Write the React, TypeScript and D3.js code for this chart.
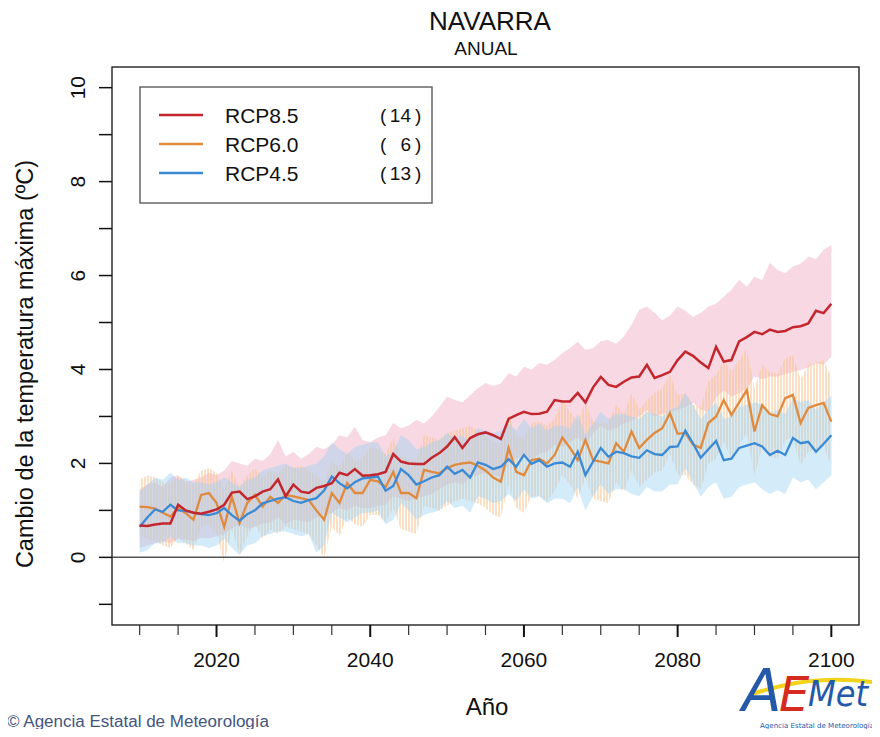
import * as d3 from "d3";
import React from "react";

// años 2010..2100
const years = d3.range(2010, 2101);

// RCP8.5: media y banda
const rcp85 = [
  0.68, 0.67, 0.70, 0.72, 0.72, 1.12, 1.00, 0.95, 0.93, 0.97,
  1.02, 1.12, 1.38, 1.40, 1.24, 1.30, 1.40, 1.45, 1.66, 1.30,
  1.55, 1.40, 1.37, 1.48, 1.52, 1.58, 1.80, 1.75, 1.88, 1.74,
  1.75, 1.77, 1.82, 2.20, 2.04, 2.00, 1.99, 1.99, 2.12, 2.22,
  2.36, 2.56, 2.33, 2.54, 2.62, 2.66, 2.60, 2.52, 2.95, 3.03,
  3.10, 3.05, 3.06, 3.10, 3.35, 3.32, 3.32, 3.50, 3.30, 3.62,
  3.84, 3.67, 3.63, 3.74, 3.83, 3.85, 4.10, 3.82, 3.88, 3.95,
  4.20, 4.38, 4.29, 4.15, 4.03, 4.48, 4.17, 4.20, 4.60, 4.69,
  4.80, 4.75, 4.85, 4.80, 4.82, 4.90, 4.92, 4.98, 5.25, 5.20, 5.40,
];
const rcp85Hi = [
  1.45, 1.55, 1.60, 1.50, 1.70, 1.75, 1.60, 1.65, 1.70, 1.80,
  1.75, 1.85, 2.05, 2.00, 1.95, 2.10, 2.05, 2.20, 2.50, 2.15,
  2.25, 2.10, 2.20, 2.35, 2.30, 2.40, 2.60, 2.55, 2.78, 2.50,
  2.45, 2.55, 2.60, 2.86, 2.75, 2.80, 2.93, 2.85, 3.00, 3.20,
  3.42, 3.35, 3.30, 3.45, 3.60, 3.71, 3.65, 3.70, 3.92, 3.85,
  4.06, 4.00, 4.14, 4.10, 4.20, 4.35, 4.46, 4.59, 4.42, 4.45,
  4.60, 4.63, 4.55, 4.70, 4.95, 5.27, 5.34, 5.20, 5.05, 5.15,
  5.34, 5.25, 5.12, 5.20, 5.34, 5.40, 5.55, 5.70, 5.91, 5.76,
  5.98, 5.90, 6.27, 6.12, 6.05, 6.19, 6.25, 6.40, 6.35, 6.55, 6.65,
];
const rcp85Lo = [
  0.20, 0.25, 0.30, 0.35, 0.30, 0.40, 0.38, 0.35, 0.42, 0.40,
  0.45, 0.50, 0.62, 0.70, 0.60, 0.65, 0.72, 0.75, 0.85, 0.70,
  0.80, 0.78, 0.75, 0.85, 0.90, 0.95, 1.05, 1.00, 1.10, 1.05,
  1.05, 1.10, 1.12, 1.30, 1.25, 1.20, 1.25, 1.30, 1.35, 1.45,
  1.55, 1.60, 1.55, 1.70, 1.75, 1.80, 1.75, 1.72, 2.00, 2.10,
  2.15, 2.10, 2.20, 2.25, 2.40, 2.35, 2.45, 2.55, 2.40, 2.65,
  2.80, 2.70, 2.75, 2.85, 2.90, 3.00, 3.14, 3.00, 3.05, 3.10,
  3.14, 3.20, 3.29, 3.15, 3.10, 3.40, 3.56, 3.42, 3.50, 3.60,
  3.85, 3.80, 3.85, 3.85, 3.90, 3.95, 3.99, 4.05, 4.14, 4.10, 4.27,
];

// RCP6.0
const rcp60 = [
  1.08, 1.07, 1.04, 0.95, 0.87, 1.05, 0.94, 0.80, 1.33, 1.37,
  1.16, 0.65, 1.29, 0.73, 1.16, 1.33, 1.08, 1.29, 1.16, 1.33,
  1.30, 1.26, 1.22, 1.00, 0.80, 1.37, 1.16, 1.58, 1.37, 1.37,
  1.65, 1.62, 1.50, 1.82, 1.37, 1.37, 1.26, 1.86, 1.82, 1.79,
  1.90, 1.97, 2.00, 2.02, 1.95, 1.85, 1.70, 1.61, 2.33, 1.82,
  1.75, 2.07, 2.10, 2.00, 2.18, 2.55, 2.33, 2.07, 2.50, 2.07,
  2.04, 2.00, 2.43, 2.25, 2.68, 2.33, 2.50, 2.65, 2.75, 3.07,
  2.63, 2.65, 2.40, 2.33, 2.86, 3.00, 3.35, 3.03, 3.30, 3.56,
  2.68, 3.24, 3.05, 3.00, 3.39, 3.46, 2.86, 3.18, 3.24, 3.29, 2.89,
];
const rcp60Hi = [
  1.65, 1.75, 1.70, 1.60, 1.55, 1.72, 1.65, 1.55, 1.85, 1.90,
  1.80, 1.45, 1.85, 1.50, 1.75, 1.90, 1.70, 1.85, 1.80, 1.95,
  1.90, 1.95, 1.85, 1.75, 1.60, 2.05, 1.90, 2.25, 2.05, 2.10,
  2.35, 2.30, 2.20, 2.55, 2.15, 2.10, 2.05, 2.60, 2.55, 2.50,
  2.65, 2.70, 2.75, 2.80, 2.70, 2.60, 2.45, 2.40, 3.05, 2.60,
  2.55, 2.85, 2.90, 2.80, 2.95, 3.35, 3.10, 2.90, 3.30, 2.90,
  2.85, 2.85, 3.25, 3.05, 3.50, 3.15, 3.35, 3.50, 3.60, 3.90,
  3.45, 3.50, 3.25, 3.20, 3.75, 3.90, 4.20, 3.95, 4.20, 4.45,
  3.60, 4.10, 3.95, 3.90, 4.25, 4.30, 3.80, 4.10, 4.15, 4.20, 3.85,
];
const rcp60Lo = [
  0.45, 0.40, 0.35, 0.25, 0.20, 0.40, 0.30, 0.15, 0.65, 0.70,
  0.50, -0.12, 0.60, 0.05, 0.45, 0.70, 0.40, 0.60, 0.50, 0.65,
  0.60, 0.55, 0.50, 0.25, 0.00, 0.65, 0.45, 0.85, 0.70, 0.65,
  0.90, 0.90, 0.75, 1.05, 0.60, 0.55, 0.50, 1.10, 1.05, 1.00,
  1.10, 1.20, 1.25, 1.20, 1.15, 1.05, 0.90, 0.85, 1.55, 1.05,
  0.95, 1.30, 1.30, 1.20, 1.40, 1.75, 1.55, 1.25, 1.70, 1.25,
  1.20, 1.15, 1.60, 1.40, 1.85, 1.50, 1.65, 1.80, 1.85, 2.20,
  1.75, 1.75, 1.55, 1.45, 2.00, 2.10, 2.45, 2.10, 2.40, 2.65,
  1.75, 2.35, 2.15, 2.10, 2.50, 2.55, 1.95, 2.25, 2.30, 2.35, 1.95,
];

// RCP4.5
const rcp45 = [
  0.65, 0.85, 1.02, 0.97, 1.12, 1.00, 0.99, 0.95, 0.92, 0.90,
  0.94, 1.05, 0.90, 0.78, 0.92, 1.00, 1.15, 1.20, 1.25, 1.28,
  1.20, 1.16, 1.22, 1.26, 1.42, 1.72, 1.58, 1.47, 1.60, 1.68,
  1.70, 1.72, 1.42, 1.52, 1.88, 1.75, 1.55, 1.62, 1.70, 1.75,
  1.93, 1.78, 1.86, 1.70, 2.02, 1.97, 1.88, 1.93, 2.09, 1.93,
  2.18, 1.99, 2.07, 1.93, 2.00, 2.02, 1.93, 2.25, 1.75, 2.04,
  2.33, 2.14, 2.25, 2.22, 2.15, 2.12, 2.28, 2.20, 2.18, 2.35,
  2.36, 2.70, 2.43, 2.12, 2.30, 2.48, 2.07, 2.10, 2.33, 2.38,
  2.43, 2.36, 2.18, 2.27, 2.18, 2.54, 2.43, 2.46, 2.25, 2.42, 2.60,
];
const rcp45Hi = [
  1.40, 1.55, 1.70, 1.65, 1.80, 1.65, 1.70, 1.60, 1.60, 1.55,
  1.60, 1.70, 1.60, 1.50, 1.65, 1.70, 1.85, 1.90, 1.95, 2.00,
  1.90, 1.90, 1.95, 2.00, 2.15, 2.45, 2.30, 2.20, 2.35, 2.40,
  2.45, 2.45, 2.15, 2.25, 2.60, 2.50, 2.30, 2.35, 2.45, 2.50,
  2.65, 2.55, 2.60, 2.45, 2.75, 2.70, 2.65, 2.70, 2.85, 2.70,
  2.95, 2.75, 2.85, 2.70, 2.80, 2.80, 2.75, 3.05, 2.60, 2.85,
  3.10, 2.95, 3.05, 3.05, 3.00, 2.95, 3.10, 3.05, 3.00, 3.15,
  3.20, 3.50, 3.25, 2.95, 3.15, 3.30, 2.95, 3.00, 3.20, 3.25,
  3.30, 3.25, 3.05, 3.15, 3.05, 3.40, 3.30, 3.35, 3.15, 3.30, 3.45,
];
const rcp45Lo = [
  0.10, 0.15, 0.30, 0.30, 0.45, 0.30, 0.30, 0.25, 0.25, 0.20,
  0.25, 0.40, 0.20, 0.05, 0.25, 0.30, 0.45, 0.50, 0.55, 0.55,
  0.50, 0.45, 0.50, 0.10, 0.25, 0.95, 0.85, 0.75, 0.85, 0.95,
  0.95, 1.00, 0.70, 0.80, 1.15, 1.00, 0.80, 0.90, 0.95, 1.00,
  1.20, 1.05, 1.10, 0.95, 1.30, 1.25, 1.15, 1.20, 1.35, 1.20,
  1.45, 1.25, 1.30, 1.15, 1.25, 1.25, 1.15, 1.50, 1.00, 1.30,
  1.55, 1.35, 1.45, 1.45, 1.35, 1.30, 1.50, 1.40, 1.40, 1.55,
  1.55, 1.90, 1.60, 1.29, 1.50, 1.60, 1.25, 1.29, 1.50, 1.55,
  1.60, 1.45, 1.35, 1.43, 1.35, 1.70, 1.60, 1.65, 1.45, 1.60, 1.75,
];

const legendNames = ["RCP8.5", "RCP6.0", "RCP4.5"];
const legendCounts = ["14", "6", "13"];
const lineColors = ["#c4262e", "#e08a3e", "#3a8ad6"];

const xMajor = [2020, 2040, 2060, 2080, 2100];
const xMinor = d3.range(2010, 2101, 5).filter((v) => !xMajor.includes(v));
const yTicks = d3.range(-1, 11);
const yLabels = [0, 2, 4, 6, 8, 10];

const W = 880;
const H = 737;
const L = 112, R = 859, T = 67, B = 625;
const font = "'Liberation Sans', Arial, Helvetica, sans-serif";
const logoFont = "'DejaVu Sans', sans-serif";

export default function App() {
  const x = d3.scaleLinear().domain([2006.4, 2103.6]).range([L, R]);
  const y = d3.scaleLinear().domain([-1.44, 10.44]).range([B, T]);

  const area = (lo: number[], hi: number[]) =>
    d3
      .area<number>()
      .x((d) => x(d))
      .y0((_, i) => y(lo[i]))
      .y1((_, i) => y(hi[i]))(years) as string;
  const line = (v: number[]) =>
    d3
      .line<number>()
      .x((d) => x(d))
      .y((_, i) => y(v[i]))(years) as string;

  return (
    <svg width={W} height={H} style={{ display: "block", margin: -8 }} fontFamily={font}>
      <defs>
        <pattern id="hatchOr" width="3" height="6" patternUnits="userSpaceOnUse">
          <line x1="1" y1="0" x2="1" y2="6" stroke="#f7c38e" strokeWidth="1.3" />
        </pattern>
        <clipPath id="plotClip">
          <rect x={L} y={T} width={R - L} height={B - T} />
        </clipPath>
      </defs>
      <rect width={W} height={H} fill="#ffffff" />

      {/* titulo */}
      <text x={490} y={30} textAnchor="middle" fontSize={26} fill="#111">NAVARRA</text>
      <text x={486} y={55} textAnchor="middle" fontSize={19} fill="#111">ANUAL</text>

      {/* bandas */}
      <g clipPath="url(#plotClip)">
        <path d={area(rcp85Lo, rcp85Hi)} fill="#f2b8cc" fillOpacity={0.55} />
        <path d={area(rcp60Lo, rcp60Hi)} fill="url(#hatchOr)" opacity={0.8} />
        <path d={area(rcp45Lo, rcp45Hi)} fill="#9fd2f1" fillOpacity={0.45} />
        <line x1={L} x2={R} y1={y(0)} y2={y(0)} stroke="#555" strokeWidth={1.5} />
        <path d={line(rcp60)} fill="none" stroke={lineColors[1]} strokeWidth={2.3} />
        <path d={line(rcp45)} fill="none" stroke={lineColors[2]} strokeWidth={2.3} />
        <path d={line(rcp85)} fill="none" stroke={lineColors[0]} strokeWidth={2.5} />
      </g>

      {/* caja */}
      <rect x={L} y={T} width={R - L} height={B - T} fill="none" stroke="#222" strokeWidth={1.4} />

      {/* eje x */}
      {xMinor.map((v) => (
        <line key={"mn" + v} x1={x(v)} x2={x(v)} y1={B} y2={B + 10} stroke="#333" strokeWidth={1.2} />
      ))}
      {xMajor.map((v) => (
        <g key={"mj" + v}>
          <line x1={x(v)} x2={x(v)} y1={B} y2={B + 12} stroke="#111" strokeWidth={2} />
          <text x={x(v)} y={667} textAnchor="middle" fontSize={21} fill="#111">{v}</text>
        </g>
      ))}
      <text x={487} y={715} textAnchor="middle" fontSize={24} fill="#111">Año</text>

      {/* eje y */}
      {yTicks.map((v) => (
        <line key={"yt" + v} x1={L - 13} x2={L} y1={y(v)} y2={y(v)} stroke="#111" strokeWidth={1.5} />
      ))}
      {yLabels.map((v) => (
        <text
          key={"yl" + v}
          transform={`translate(85,${y(v)}) rotate(-90)`}
          textAnchor="middle"
          fontSize={21}
          fill="#111"
        >
          {v}
        </text>
      ))}
      <text
        transform={`translate(33,364) rotate(-90)`}
        textAnchor="middle"
        fontSize={23.5}
        fill="#111"
      >
        Cambio  de la temperatura máxima (ºC)
      </text>

      {/* leyenda */}
      <rect x={140} y={87} width={292} height={116} fill="#fff" stroke="#666" strokeWidth={1.5} />
      {legendNames.map((n, i) => {
        const ly = 115 + i * 29;
        return (
          <g key={n}>
            <line x1={159} x2={203} y1={ly} y2={ly} stroke={lineColors[i]} strokeWidth={2.3} />
            <text x={225} y={ly + 7.5} fontSize={21} fill="#111">{n}</text>
            <text x={380} y={ly + 7} fontSize={19} fill="#111">(</text>
            <text x={411} y={ly + 7} fontSize={19} fill="#111" textAnchor="end">{legendCounts[i]}</text>
            <text x={415} y={ly + 7} fontSize={19} fill="#111">)</text>
          </g>
        );
      })}

      {/* pie */}
      <text x={7} y={727} fontSize={16} fill="#44557e" textLength={262} lengthAdjust="spacingAndGlyphs">
        © Agencia Estatal de Meteorología
      </text>

      {/* logo */}
      <g fontFamily={logoFont} fontStyle="italic">
        <path d="M752,694 C790,682 824,676 872,682" fill="none" stroke="#f2d21b" strokeWidth={4} />
        <text x={742} y={711} fontSize={58} fill="#2459a8">A</text>
        <text x={779} y={711} fontSize={48} fill="#d42a20">E</text>
        <text x={808} y={706} fontSize={36} fill="#2459a8" textLength={60} lengthAdjust="spacingAndGlyphs">Met</text>
        <text x={760} y={728} fontSize={7} fontStyle="normal" fill="#2459a8" textLength={114} lengthAdjust="spacingAndGlyphs">
          Agencia Estatal de Meteorología
        </text>
      </g>
    </svg>
  );
}
